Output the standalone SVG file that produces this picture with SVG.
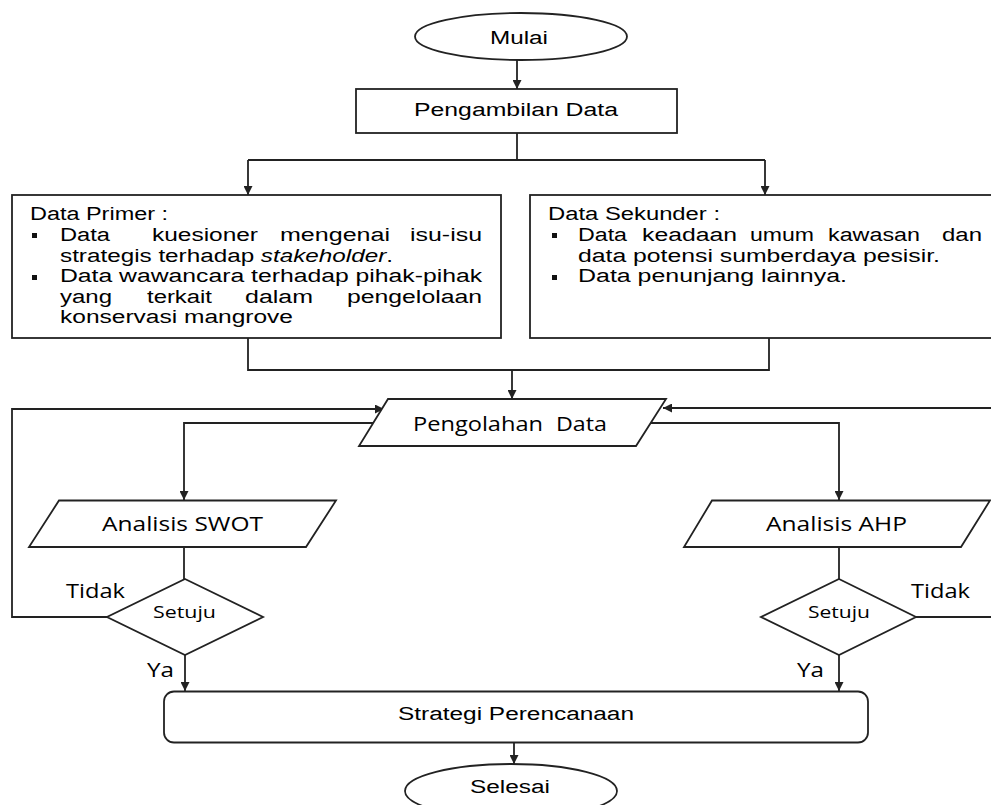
<svg xmlns="http://www.w3.org/2000/svg" width="991" height="805" viewBox="0 0 991 805">
<style>
.s{fill:#fff;stroke:#222;stroke-width:1.8}
.c{fill:none;stroke:#222;stroke-width:1.8}
.a{font-family:"Liberation Sans",Arial,sans-serif;font-size:18px;fill:#000}
.o{font-family:"Open Sans","Noto Sans",sans-serif;font-size:20px;fill:#000}
.q{font-family:"Open Sans","Noto Sans",sans-serif;font-size:17px;fill:#000}
.b{fill:#111}
</style>
<defs>
<marker id="ah" viewBox="0 0 10 10" refX="10" refY="5" markerWidth="10" markerHeight="9" markerUnits="userSpaceOnUse" orient="auto"><path d="M0,0 L10,5 L0,10 z" fill="#222"/></marker>
</defs>
<rect width="991" height="805" fill="#fff"/>
<g id="connectors">
<path class="c" d="M517,60 V89" marker-end="url(#ah)"/>
<path class="c" d="M517,133 V160"/>
<path class="c" d="M248,160 H765"/>
<path class="c" d="M248,160 V195" marker-end="url(#ah)"/>
<path class="c" d="M765,160 V195" marker-end="url(#ah)"/>
<path class="c" d="M248,338 V370 H769 V338"/>
<path class="c" d="M512,370 V399" marker-end="url(#ah)"/>
<path class="c" d="M373,423 H184 V500" marker-end="url(#ah)"/>
<path class="c" d="M651,423 H839 V500" marker-end="url(#ah)"/>
<path class="c" d="M184,547 V579"/>
<path class="c" d="M839,547 V579"/>
<path class="c" d="M107,617 H12 V409 H384" marker-end="url(#ah)"/>
<path class="c" d="M916,617 H998 V408 H663" marker-end="url(#ah)"/>
<path class="c" d="M185,655 V691" marker-end="url(#ah)"/>
<path class="c" d="M839,655 V691" marker-end="url(#ah)"/>
<path class="c" d="M514,743 V764" marker-end="url(#ah)"/>
</g>
<g id="mulai">
<ellipse class="s" cx="521" cy="36.5" rx="106" ry="23.5"/>
<text class="a" x="490" y="43.5" textLength="58" lengthAdjust="spacingAndGlyphs">Mulai</text>
</g>
<g id="pengambilan">
<rect class="s" x="356" y="89" width="321" height="44"/>
<text class="a" x="414" y="115.5" textLength="204" lengthAdjust="spacingAndGlyphs">Pengambilan Data</text>
</g>
<g id="data-primer">
<rect class="s" x="12" y="195" width="489" height="143"/>
<text class="a" x="30" y="219.5" textLength="138" lengthAdjust="spacingAndGlyphs">Data Primer :</text>
<rect class="b" x="32" y="233" width="5" height="5"/>
<text class="a" x="60" y="240.5" textLength="50" lengthAdjust="spacingAndGlyphs">Data</text>
<text class="a" x="152" y="240.5" textLength="106" lengthAdjust="spacingAndGlyphs">kuesioner</text>
<text class="a" x="280" y="240.5" textLength="110" lengthAdjust="spacingAndGlyphs">mengenai</text>
<text class="a" x="410" y="240.5" textLength="72" lengthAdjust="spacingAndGlyphs">isu-isu</text>
<text class="a" x="60" y="261.5" textLength="333" lengthAdjust="spacingAndGlyphs">strategis terhadap <tspan font-style="italic">stakeholder</tspan>.</text>
<rect class="b" x="32" y="275" width="5" height="5"/>
<text class="a" x="60" y="282" textLength="422" lengthAdjust="spacingAndGlyphs">Data wawancara terhadap pihak-pihak</text>
<text class="a" x="60" y="302.5" textLength="52" lengthAdjust="spacingAndGlyphs">yang</text>
<text class="a" x="147" y="302.5" textLength="65" lengthAdjust="spacingAndGlyphs">terkait</text>
<text class="a" x="245" y="302.5" textLength="68" lengthAdjust="spacingAndGlyphs">dalam</text>
<text class="a" x="347" y="302.5" textLength="135" lengthAdjust="spacingAndGlyphs">pengelolaan</text>
<text class="a" x="60" y="323" textLength="233" lengthAdjust="spacingAndGlyphs">konservasi mangrove</text>
</g>
<g id="data-sekunder">
<rect class="s" x="530" y="195" width="475" height="143"/>
<text class="a" x="548" y="219.5" textLength="172" lengthAdjust="spacingAndGlyphs">Data Sekunder :</text>
<rect class="b" x="552" y="233" width="5" height="5"/>
<text class="a" x="578" y="240.5" textLength="49" lengthAdjust="spacingAndGlyphs">Data</text>
<text class="a" x="642" y="240.5" textLength="95" lengthAdjust="spacingAndGlyphs">keadaan</text>
<text class="a" x="750" y="240.5" textLength="64" lengthAdjust="spacingAndGlyphs">umum</text>
<text class="a" x="828" y="240.5" textLength="92" lengthAdjust="spacingAndGlyphs">kawasan</text>
<text class="a" x="942" y="240.5" textLength="40" lengthAdjust="spacingAndGlyphs">dan</text>
<text class="a" x="578" y="261.5" textLength="362" lengthAdjust="spacingAndGlyphs">data potensi sumberdaya pesisir.</text>
<rect class="b" x="552" y="275" width="5" height="5"/>
<text class="a" x="578" y="282" textLength="269" lengthAdjust="spacingAndGlyphs">Data penunjang lainnya.</text>
</g>
<g id="pengolahan">
<polygon class="s" points="388,399 666,399 636,446 359,446"/>
<text class="o" x="413" y="431" textLength="130" lengthAdjust="spacingAndGlyphs">Pengolahan</text>
<text class="o" x="556" y="431" textLength="51" lengthAdjust="spacingAndGlyphs">Data</text>
</g>
<g id="swot">
<polygon class="s" points="59,500.5 336,500.5 306,547 29,547"/>
<text class="o" x="102" y="531" textLength="161" lengthAdjust="spacingAndGlyphs">Analisis SWOT</text>
</g>
<g id="ahp">
<polygon class="s" points="712,500.5 990,500.5 961,547 684,547"/>
<text class="o" x="766" y="531" textLength="141" lengthAdjust="spacingAndGlyphs">Analisis AHP</text>
</g>
<g id="setuju-swot">
<polygon class="s" points="185,579 263,617 185,655 107,617"/>
<text class="q" x="153" y="618" textLength="63" lengthAdjust="spacingAndGlyphs">Setuju</text>
</g>
<g id="setuju-ahp">
<polygon class="s" points="839,579 916,617 839,655 761,617"/>
<text class="q" x="808" y="618" textLength="62" lengthAdjust="spacingAndGlyphs">Setuju</text>
</g>
<g id="labels">
<text class="o" x="66" y="598" textLength="59" lengthAdjust="spacingAndGlyphs">Tidak</text>
<text class="o" x="911" y="598" textLength="59" lengthAdjust="spacingAndGlyphs">Tidak</text>
<text class="o" x="147" y="677" textLength="27" lengthAdjust="spacingAndGlyphs">Ya</text>
<text class="o" x="797" y="677" textLength="27" lengthAdjust="spacingAndGlyphs">Ya</text>
</g>
<g id="strategi">
<rect class="s" x="164" y="691.5" width="704" height="51" rx="10" ry="10"/>
<text class="a" x="398" y="720" textLength="236" lengthAdjust="spacingAndGlyphs">Strategi Perencanaan</text>
</g>
<g id="selesai">
<ellipse class="s" cx="511" cy="791" rx="106" ry="27"/>
<text class="a" x="470" y="793" textLength="80" lengthAdjust="spacingAndGlyphs">Selesai</text>
</g>
</svg>
